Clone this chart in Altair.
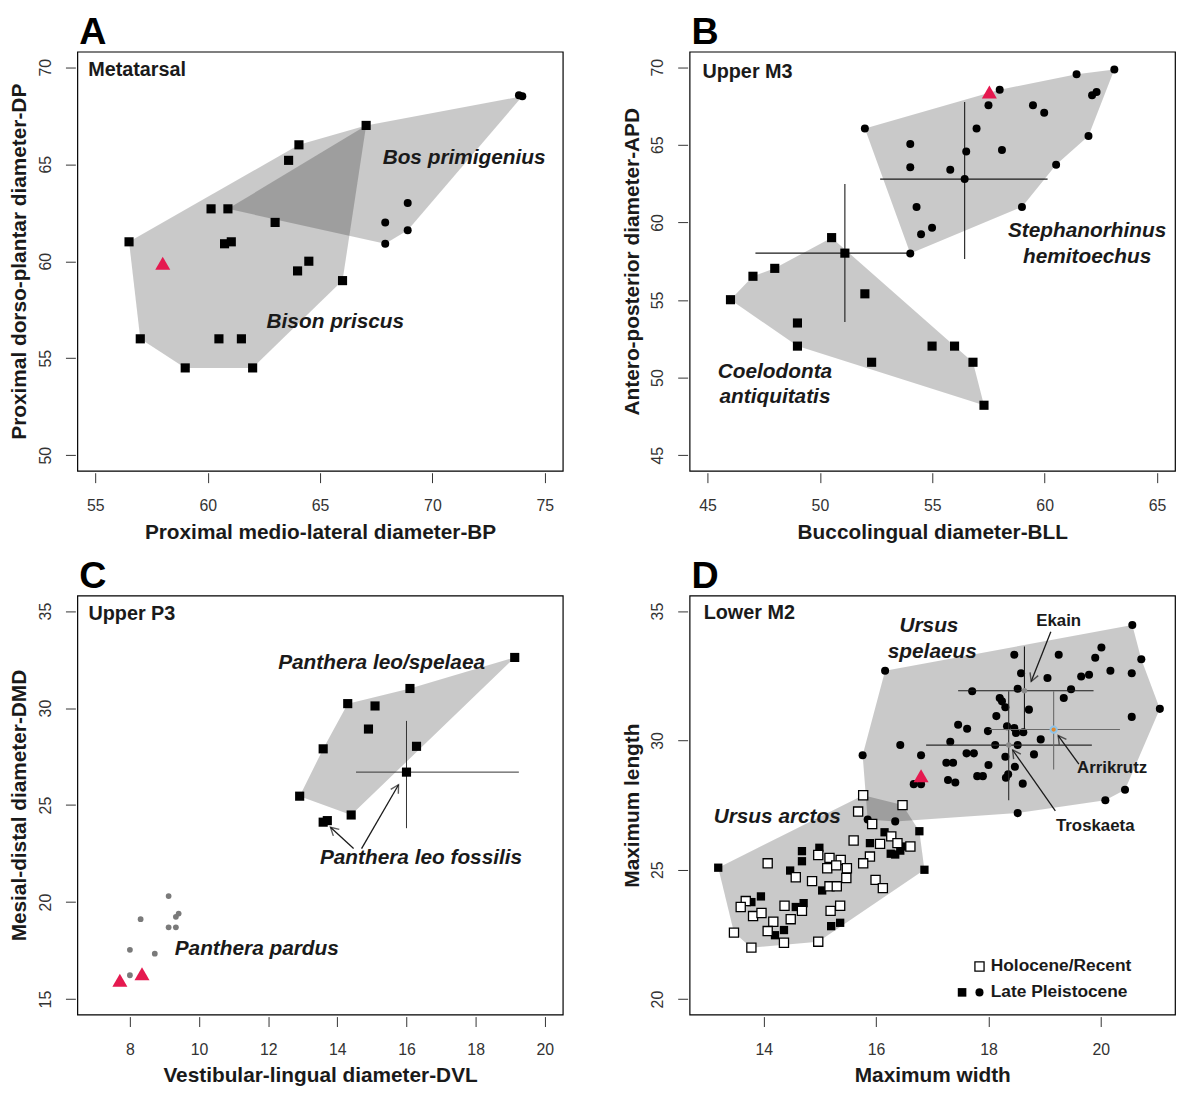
import math
import altair as alt
import pandas as pd

FONT = "Liberation Sans"
W, H = 490, 423

# ---------------- Panel A: Metatarsal ----------------
a_bison_x = [67.05, 64.06, 63.6, 60.15, 60.9, 63.0, 56.5, 60.75, 61.05, 64.5, 64.0, 66.0, 57.0, 60.5, 61.5, 59.0, 62.0]
a_bison_y = [67.0, 66.0, 65.2, 62.7, 62.7, 62.0, 61.0, 60.9, 61.0, 60.0, 59.5, 59.0, 56.0, 56.0, 56.0, 54.5, 54.5]
a_bos_x = [74.0, 73.85, 68.9, 67.9, 68.9, 67.9]
a_bos_y = [68.5, 68.55, 63.0, 62.0, 61.6, 60.9]
a_bison_hull_x = [56.5, 64.06, 67.05, 66.0, 62.0, 59.0, 57.0]
a_bison_hull_y = [61.0, 66.0, 67.0, 59.0, 54.5, 54.5, 56.0]
a_bos_hull_x = [60.9, 67.05, 74.0, 68.9, 67.9]
a_bos_hull_y = [62.7, 67.0, 68.5, 61.6, 60.9]
a_red_x = [58.0]
a_red_y = [59.9]

# ---------------- Panel B: Upper M3 ----------------
b_steph_x = [63.1, 61.42, 62.31, 62.11, 58.0, 57.5, 59.48, 59.98, 56.97, 52.0, 54.02, 61.95, 56.51, 58.1,
             54.02, 55.8, 60.51, 56.44, 54.3, 58.99, 54.99, 54.5, 54.02]
b_steph_y = [69.85, 69.55, 68.4, 68.2, 68.55, 67.55, 67.55, 67.06, 66.05, 66.05, 65.06, 65.57, 64.57, 64.67,
             63.56, 63.39, 63.71, 62.79, 61.0, 61.0, 59.66, 59.24, 58.0]
b_coel_x = [50.52, 51.11, 47.99, 47.02, 46.02, 52.0, 49.0, 49.0, 52.3, 54.99, 55.99, 56.81, 57.3]
b_coel_y = [59.02, 58.02, 57.04, 56.53, 55.02, 55.4, 53.52, 52.03, 50.99, 52.03, 52.03, 50.99, 48.22]
b_steph_hull_x = [52.0, 58.0, 61.42, 63.1, 61.95, 60.51, 58.99, 54.02]
b_steph_hull_y = [66.05, 68.55, 69.55, 69.85, 65.57, 63.71, 61.0, 58.0]
b_coel_hull_x = [46.02, 47.02, 47.99, 50.52, 55.99, 56.81, 57.3, 49.0]
b_coel_hull_y = [55.02, 56.53, 57.04, 59.02, 52.03, 50.99, 48.22, 52.03]
b_red_x = [57.54]
b_red_y = [68.4]
# crosshairs: centre x, centre y, x-min, x-max, y-min, y-max
b_cross = [
    (56.44, 62.79, 52.68, 60.13, 57.64, 67.76),
    (51.11, 58.02, 47.13, 53.90, 53.59, 62.47),
]

# ---------------- Panel C: Upper P3 ----------------
c_leo_x = [19.13, 16.1, 14.3, 15.09, 14.9, 13.59, 16.29, 16.0, 12.91, 14.4, 13.59, 13.71]
c_leo_y = [32.61, 31.01, 30.23, 30.11, 28.92, 27.9, 28.03, 26.7, 25.46, 24.49, 24.12, 24.2]
c_leo_hull_x = [12.91, 13.59, 14.3, 16.1, 19.13, 14.4]
c_leo_hull_y = [25.46, 27.9, 30.23, 31.01, 32.61, 24.49]
c_pardus_x = [9.12, 8.31, 9.41, 9.33, 9.12, 9.33, 8.0, 8.72, 8.0]
c_pardus_y = [20.31, 19.12, 19.41, 19.24, 18.7, 18.7, 17.54, 17.34, 16.23]
c_red_x = [7.71, 8.35]
c_red_y = [15.97, 16.31]
c_cross = [(16.0, 26.7, 14.54, 19.25, 23.81, 29.34)]
c_arrows = [(14.47, 22.76, 13.80, 23.86), (14.70, 22.76, 15.77, 26.05)]

# ---------------- Panel D: Lower M2 ----------------
d_open_x = [15.77, 16.47, 15.68, 15.93, 15.6, 16.07, 16.27, 16.38, 16.61, 15.89, 15.77, 14.07, 14.97, 15.17,
            15.37, 15.13, 15.29, 15.48, 15.47, 14.57, 14.86, 15.99, 16.12, 15.17, 15.3, 13.68, 13.59, 13.81,
            13.96, 14.37, 14.68, 14.48, 15.19, 15.36, 14.17, 14.07, 13.47, 14.36, 14.97, 13.78]
d_open_y = [27.88, 27.5, 27.25, 26.77, 26.13, 26.0, 26.29, 26.03, 25.9, 25.51, 25.25, 25.25, 25.57, 25.46,
            25.38, 25.06, 25.17, 25.06, 24.68, 24.71, 24.56, 24.61, 24.29, 24.36, 24.36, 23.79, 23.56, 23.21,
            23.33, 23.61, 23.41, 23.09, 23.41, 23.61, 22.99, 22.63, 22.57, 22.18, 22.22, 21.99]
d_sq_x = [13.19, 16.15, 16.77, 15.89, 16.26, 16.34, 16.43, 16.5, 16.86, 14.68, 14.99, 14.68, 14.47, 15.04,
          13.95, 13.78, 14.57, 14.71, 14.36, 14.2, 15.2, 15.36]
d_sq_y = [25.08, 26.45, 26.49, 26.03, 25.62, 25.59, 25.74, 25.9, 25.0, 25.72, 25.85, 25.33, 24.97, 24.2,
          23.97, 23.75, 23.56, 23.71, 22.67, 22.47, 22.82, 22.95]
d_circ_x = [20.56, 16.16, 18.46, 19.25, 20.01, 19.9, 20.72, 18.58, 19.05, 19.65, 19.79, 20.17, 20.55, 19.47,
            19.34, 18.52, 17.71, 21.05, 20.55, 18.2, 18.24, 18.3, 18.14, 18.72, 17.46, 17.62, 17.99, 18.33,
            18.46, 18.49, 18.62, 18.93, 16.43, 17.32, 18.12, 18.52, 15.76, 16.8, 18.81, 17.61, 17.74, 18.3,
            17.25, 17.37, 18.0, 18.47, 17.8, 17.9, 18.31, 18.35, 18.61, 17.28, 17.41, 16.67, 16.8, 20.08,
            20.43, 18.52, 15.85, 16.34]
d_circ_y = [34.46, 32.69, 33.31, 33.31, 33.59, 33.2, 33.14, 32.6, 32.41, 32.47, 32.54, 32.69, 32.6, 31.98,
            31.64, 32.0, 31.9, 31.22, 30.91, 31.64, 31.51, 31.28, 30.94, 31.19, 30.61, 30.45, 30.36, 30.55,
            30.48, 30.29, 30.32, 30.04, 29.82, 29.95, 29.82, 29.82, 29.43, 29.43, 29.46, 29.5, 29.5, 29.37,
            29.14, 29.14, 29.05, 28.98, 28.62, 28.62, 28.56, 28.69, 28.33, 28.47, 28.37, 28.31, 28.31, 27.69,
            28.09, 27.19, 26.94, 26.87]
d_spel_hull_x = [16.16, 20.56, 20.72, 21.05, 20.43, 20.08, 18.52, 16.34, 15.85, 15.76]
d_spel_hull_y = [32.69, 34.46, 33.14, 31.22, 28.09, 27.69, 27.19, 26.87, 26.94, 29.43]
d_arct_hull_x = [13.19, 15.77, 16.47, 16.77, 16.86, 14.97, 13.78, 13.47]
d_arct_hull_y = [25.08, 27.88, 27.5, 26.49, 25.0, 22.22, 21.99, 22.57]
d_red_x = [16.8]
d_red_y = [28.63]
# Ekain, Troskaeta, Arrikrutz
d_cross = [
    (18.64, 31.92, 17.46, 19.87, 30.42, 33.63),
    (18.36, 29.82, 16.89, 19.84, 27.69, 31.90),
    (19.16, 30.42, 18.02, 20.34, 28.88, 31.90),
]
d_cross_color = ["#1a1a1a", "#2a2a2a", "#6a6a6a"]
d_arrows = [(19.11, 34.20, 18.76, 32.28), (19.61, 29.08, 19.24, 30.19), (19.19, 27.28, 18.43, 29.63)]


# ---------------- helpers ----------------
class Enc:
    def __init__(self, xdom, ydom, xticks, yticks, xtitle, ytitle):
        common = dict(grid=False, domain=False, tickSize=10, offset=2, tickColor="#333", format="d",
                      labelFont=FONT, labelFontSize=16, labelColor="#333",
                      titleFont=FONT, titleFontSize=21, titleFontWeight="bold", titleColor="#1a1a1a")
        self.xs = alt.Scale(domain=xdom, nice=False, zero=False)
        self.ys = alt.Scale(domain=ydom, nice=False, zero=False)
        self.xdom, self.ydom = xdom, ydom
        self.X = alt.X("x:Q", scale=self.xs,
                       axis=alt.Axis(values=xticks, title=xtitle, labelPadding=15, titlePadding=8, **common))
        self.Y = alt.Y("y:Q", scale=self.ys,
                       axis=alt.Axis(values=yticks, title=ytitle, labelAngle=270, labelAlign="center",
                                     labelBaseline="bottom", labelPadding=12, titlePadding=8, **common))


def hull(e, xs, ys):
    d = pd.DataFrame({"x": list(xs) + [xs[0]], "y": list(ys) + [ys[0]]})
    d["i"] = range(len(d))
    return alt.Chart(d).mark_line(fill="black", fillOpacity=0.21, strokeOpacity=0,
                                  strokeWidth=0).encode(x=e.X, y=e.Y, order="i:Q")


def pts(e, xs, ys, shape="square", size=70, fill="black", stroke=None, sw=0):
    d = pd.DataFrame({"x": xs, "y": ys})
    kw = dict(shape=shape, size=size, filled=True, fill=fill, opacity=1)
    if stroke:
        kw.update(stroke=stroke, strokeWidth=sw)
    else:
        kw.update(strokeWidth=0)
    return alt.Chart(d).mark_point(**kw).encode(x=e.X, y=e.Y)


def crosses(e, cr, colors=None, width=1.1):
    layers = []
    for k, (cx, cy, x0, x1, y0, y1) in enumerate(cr):
        col = colors[k] if colors else "#1a1a1a"
        h = pd.DataFrame({"x": [x0], "x2": [x1], "y": [cy]})
        v = pd.DataFrame({"x": [cx], "y": [y0], "y2": [y1]})
        layers.append(alt.Chart(h).mark_rule(color=col, strokeWidth=width).encode(x=e.X, x2="x2:Q", y=e.Y))
        layers.append(alt.Chart(v).mark_rule(color=col, strokeWidth=width).encode(x=e.X, y=e.Y, y2="y2:Q"))
    return layers


def arrows(e, arr):
    pxx = W / (e.xdom[1] - e.xdom[0])
    pxy = H / (e.ydom[1] - e.ydom[0])
    rows = []
    for (x0, y0, x1, y1) in arr:
        dx = (x1 - x0) * pxx
        dy = -(y1 - y0) * pxy
        ang = math.degrees(math.atan2(dx, -dy)) % 360
        rows.append({"x": x0, "y": y0, "x2": x1, "y2": y1, "ang": ang})
    d = pd.DataFrame(rows)
    line = alt.Chart(d).mark_rule(color="#1a1a1a", strokeWidth=1.3).encode(
        x=e.X, y=e.Y, x2="x2:Q", y2="y2:Q")
    head = alt.Chart(d).mark_point(shape="M -0.55 1 L 0 0 L 0.55 1", filled=False, stroke="#1a1a1a",
                                   strokeWidth=1.4, size=260).encode(
        x=alt.X("x2:Q", scale=e.xs), y=alt.Y("y2:Q", scale=e.ys),
        angle=alt.Angle("ang:Q", scale=None))
    return [line, head]


def texts(e, xs, ys, labels, size=21, italic=True, bold=True, align="center", color="#1a1a1a"):
    d = pd.DataFrame({"x": xs, "y": ys, "t": labels})
    return alt.Chart(d).mark_text(font=FONT, fontSize=size, fontStyle="italic" if italic else "normal",
                                  fontWeight="bold" if bold else "normal", align=align,
                                  baseline="middle", color=color).encode(x=e.X, y=e.Y, text="t:N")


def letter_mark(letter):
    d = pd.DataFrame({"t": [letter]})
    return alt.Chart(d).mark_text(font=FONT, fontSize=38, fontWeight="bold", align="left",
                                  baseline="alphabetic", color="black").encode(
        x=alt.value(2), y=alt.value(-8), text="t:N")


def panel(layers, letter):
    return alt.layer(*layers, letter_mark(letter)).properties(width=W, height=H)


RED = "#e5194f"
TRI = 230

# ---------- A ----------
e = Enc([54.2, 75.8], [49.2, 70.8], [55, 60, 65, 70, 75], [50, 55, 60, 65, 70],
        "Proximal medio-lateral diameter-BP", "Proximal dorso-plantar diameter-DP")
A = panel([
    hull(e, a_bison_hull_x, a_bison_hull_y),
    hull(e, a_bos_hull_x, a_bos_hull_y),
    pts(e, a_bison_x, a_bison_y, "square", 85),
    pts(e, a_bos_x, a_bos_y, "circle", 65),
    pts(e, a_red_x, a_red_y, "triangle-up", TRI, RED),
    texts(e, [54.68], [69.83], ["Metatarsal"], size=20, italic=False, align="left"),
    texts(e, [71.41, 65.68], [65.34, 56.86], ["Bos primigenius", "Bison priscus"]),
], "A")

# ---------- B ----------
e = Enc([44.2, 65.8], [44.0, 71.0], [45, 50, 55, 60, 65], [45, 50, 55, 60, 65, 70],
        "Buccolingual diameter-BLL", "Antero-posterior diameter-APD")
B = panel([
    hull(e, b_steph_hull_x, b_steph_hull_y),
    hull(e, b_coel_hull_x, b_coel_hull_y),
    *crosses(e, b_cross),
    pts(e, b_coel_x, b_coel_y, "square", 85),
    pts(e, b_steph_x, b_steph_y, "circle", 65),
    pts(e, b_red_x, b_red_y, "triangle-up", TRI, RED),
    texts(e, [44.77], [69.72], ["Upper M3"], size=20, italic=False, align="left"),
    texts(e, [61.89, 61.89, 48.0, 48.0], [59.43, 57.79, 50.34, 48.75],
          ["Stephanorhinus", "hemitoechus", "Coelodonta", "antiquitatis"]),
], "B")

# ---------- C ----------
e = Enc([6.48, 20.52], [14.2, 35.8], [8, 10, 12, 14, 16, 18, 20], [15, 20, 25, 30, 35],
        "Vestibular-lingual diameter-DVL", "Mesial-distal diameter-DMD")
C = panel([
    hull(e, c_leo_hull_x, c_leo_hull_y),
    *crosses(e, c_cross, ["#333"], 1.0),
    *arrows(e, c_arrows),
    pts(e, c_leo_x, c_leo_y, "square", 85),
    pts(e, c_pardus_x, c_pardus_y, "circle", 34, "#7a7a7a"),
    pts(e, c_red_x, c_red_y, "triangle-up", TRI, RED),
    texts(e, [6.8], [34.83], ["Upper P3"], size=20, italic=False, align="left"),
    texts(e, [15.28, 16.42, 11.67], [32.33, 22.25, 17.57],
          ["Panthera leo/spelaea", "Panthera leo fossilis", "Panthera pardus"]),
], "C")

# ---------- D ----------
e = Enc([12.68, 21.32], [19.4, 35.6], [14, 16, 18, 20], [20, 25, 30, 35],
        "Maximum width", "Maximum length")
D = panel([
    hull(e, d_spel_hull_x, d_spel_hull_y),
    hull(e, d_arct_hull_x, d_arct_hull_y),
    pts(e, d_circ_x, d_circ_y, "circle", 66),
    pts(e, d_sq_x, d_sq_y, "square", 70),
    pts(e, d_open_x, d_open_y, "square", 85, "white", "black", 1.3),
    *crosses(e, d_cross, d_cross_color, 1.1),
    pts(e, [c[0] for c in d_cross[:2]], [c[1] for c in d_cross[:2]], "circle", 30, "#8a8a8a"),
    pts(e, [d_cross[2][0]], [d_cross[2][1]], "circle", 40, "#e0892e", "#8fc3e8", 2),
    *arrows(e, d_arrows),
    pts(e, d_red_x, d_red_y, "triangle-up", TRI, RED),
    texts(e, [12.93], [34.91], ["Lower M2"], size=20, italic=False, align="left"),
    texts(e, [16.94, 17.0, 14.24], [34.44, 33.4, 27.03], ["Ursus", "spelaeus", "Ursus arctos"]),
    texts(e, [19.25, 20.2, 19.9], [34.6, 28.92, 26.7], ["Ekain", "Arrikrutz", "Troskaeta"],
          size=17, italic=False),
    pts(e, [17.84], [21.26], "square", 85, "white", "black", 1.3),
    pts(e, [17.53], [20.26], "square", 75),
    pts(e, [17.84], [20.26], "circle", 66),
    texts(e, [18.04, 18.04], [21.26, 20.26], ["Holocene/Recent", "Late Pleistocene"],
          size=17.5, italic=False, align="left"),
], "D")

chart = alt.vconcat(
    alt.hconcat(A, B, spacing=57),
    alt.hconcat(C, D, spacing=57),
    spacing=14,
).properties(padding=0).configure_view(stroke="black", strokeWidth=1.2)

chart.save("out.html", embed_options={"renderer": "svg", "actions": False})
